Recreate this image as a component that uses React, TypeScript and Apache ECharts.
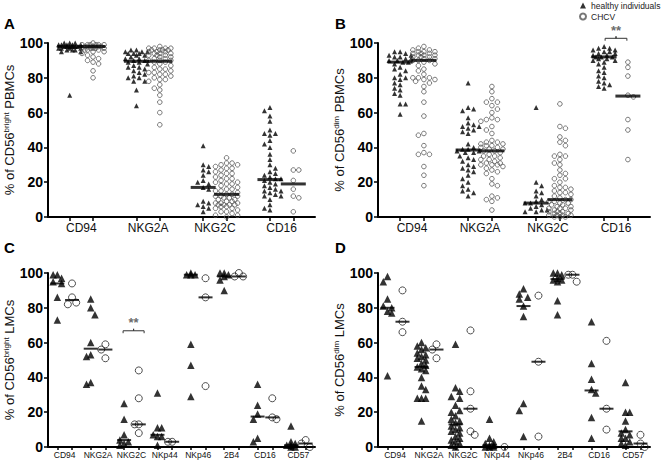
import React, { useEffect, useRef } from "react";
import * as echarts from "echarts";

const FONT = '"Liberation Sans", Arial, Helvetica, sans-serif';

// ---------- categories ----------
const catsPBMC = ["CD94", "NKG2A", "NKG2C", "CD16"];
const catsLMC = ["CD94", "NKG2A", "NKG2C", "NKp44", "NKp46", "2B4", "CD16", "CD57"];
const yTicks = [0, 20, 40, 60, 80, 100];

// ---------- Panel A: CD56bright PBMCs ----------
const aHealthy = [
  [100, 100, 100, 99, 99, 99, 99, 99, 98, 98, 98, 98, 98, 98, 97, 97, 97, 97, 96, 96, 96, 95, 95, 70],
  [96, 96, 95, 95, 95, 94, 94, 94, 93, 93, 92, 91, 91, 90, 90, 89, 89, 88, 87, 86, 86, 85, 84, 83, 82, 81, 80, 80, 78, 78, 73, 64],
  [41, 30, 29, 27, 26, 24, 21, 20, 19, 17, 16, 9, 8, 7, 6, 5, 3],
  [63, 61, 58, 55, 50, 48, 48, 47, 44, 42, 40, 36, 33, 30, 28, 26, 25, 24, 23, 22, 22, 21, 20, 19, 18, 17, 16, 15, 15, 14, 13, 12, 12, 10, 7, 5, 4],
];
const aChcv = [
  [100, 99, 99, 99, 99, 99, 99, 98, 98, 98, 98, 98, 98, 98, 97, 97, 97, 97, 97, 96, 96, 96, 95, 95, 94, 93, 92, 91, 90, 89, 88, 84, 80],
  [98, 97, 97, 97, 97, 96, 96, 96, 96, 95, 95, 95, 94, 94, 94, 93, 93, 93, 92, 92, 91, 91, 90, 90, 90, 89, 89, 88, 87, 86, 85, 85, 84, 83, 83, 82, 82, 81, 80, 79, 79, 78, 76, 74, 73, 70, 66, 60, 53],
  [34, 31, 31, 30, 30, 29, 28, 28, 27, 26, 25, 25, 24, 23, 22, 22, 21, 20, 20, 19, 19, 18, 17, 16, 16, 15, 15, 14, 13, 13, 12, 12, 12, 11, 11, 10, 10, 9, 9, 8, 8, 8, 7, 7, 7, 7, 6, 6, 5, 5, 4, 3, 3, 2, 1, 1, 0],
  [38, 27, 27, 21, 16, 12, 11, 3],
];
const aHealthyMedian = [98, 89.5, 17, 21.5];
const aChcvMedian = [98, 89.5, 13, 19];

// ---------- Panel B: CD56dim PBMCs ----------
const bHealthy = [
  [95, 95, 94, 93, 93, 92, 92, 91, 91, 90, 90, 89, 89, 88, 86, 85, 84, 82, 80, 80, 79, 77, 76, 74, 73, 71, 70, 65, 65, 59],
  [77, 63, 62, 61, 57, 54, 53, 52, 52, 51, 50, 49, 48, 42, 40, 39, 39, 38, 38, 37, 37, 35, 34, 33, 32, 30, 29, 28, 27, 26, 24, 22, 20, 18, 16, 15, 14, 12],
  [63, 20, 18, 15, 14, 12, 10, 9, 8, 8, 7, 6, 5, 4, 4, 3, 3],
  [98, 97, 97, 96, 96, 95, 95, 94, 94, 93, 93, 92, 92, 92, 91, 91, 90, 90, 89, 88, 86, 84, 83, 81, 80, 78, 77, 76, 75, 74],
];
const bChcv = [
  [98, 97, 96, 96, 95, 95, 95, 94, 94, 94, 93, 93, 93, 92, 92, 92, 91, 91, 90, 90, 90, 89, 88, 87, 85, 84, 82, 80, 80, 80, 79, 79, 78, 77, 75, 72, 66, 58, 48, 47, 41, 37, 36, 36, 29, 24, 18],
  [75, 72, 68, 66, 66, 64, 62, 60, 57, 56, 56, 55, 52, 50, 48, 44, 43, 43, 42, 42, 41, 41, 40, 40, 39, 39, 38, 38, 37, 36, 35, 35, 34, 33, 33, 32, 31, 31, 30, 30, 30, 29, 28, 27, 26, 25, 22, 19, 18, 12, 11, 10, 9, 4],
  [65, 52, 51, 46, 44, 43, 41, 36, 35, 35, 33, 31, 30, 27, 25, 24, 22, 22, 20, 18, 17, 17, 16, 15, 14, 14, 13, 12, 11, 10, 10, 9, 9, 8, 8, 7, 7, 6, 6, 5, 5, 5, 4, 4, 3, 3, 3, 2, 2, 2, 1, 1, 1, 1, 0, 0, 0],
  [89, 86, 81, 70, 69, 56, 50, 33],
];
const bHealthyMedian = [89, 38.5, 8, 92];
const bChcvMedian = [90, 38, 10, 69.5];

// ---------- Panel C: CD56bright LMCs ----------
const cHealthy = [
  [99, 99, 97, 95, 94, 86, 73],
  [85, 80, 76, 60, 53, 52, 37, 36],
  [25, 16, 7, 4, 3, 2, 1],
  [31, 11, 11, 7, 6, 6, 1],
  [100, 99, 99, 99, 59, 47, 29],
  [100, 100, 99, 98, 96, 90],
  [36, 24, 19, 16, 5, 3],
  [12, 3, 2, 1, 1, 0, 0],
];
const cChcv = [
  [94, 86, 83, 82],
  [59, 56, 51],
  [44, 28, 13, 13, 8],
  [3, 3],
  [97, 86, 35],
  [100, 98, 98],
  [28, 17, 16],
  [4, 2, 0],
];
const cHealthyMedian = [94, 56.5, 4, 7, 99, 98, 17.5, 1];
const cChcvMedian = [84.5, 56, 13, 3, 86, 98, 17, 2];

// ---------- Panel D: CD56dim LMCs ----------
const dHealthy = [
  [98, 95, 85, 81, 80, 78, 77, 41],
  [60, 58, 57, 56, 54, 53, 52, 51, 50, 48, 47, 46, 45, 44, 40, 35, 33, 28, 28, 28, 15],
  [59, 34, 32, 29, 28, 24, 21, 20, 18, 16, 15, 14, 12, 11, 10, 9, 8, 6, 5, 4, 3, 2, 1, 0],
  [16, 5, 3, 2, 1, 1, 0, 0, 0],
  [91, 88, 86, 85, 81, 75, 25, 21, 6],
  [100, 100, 99, 97, 96, 96, 95, 84, 76],
  [72, 48, 39, 33, 31, 17, 5],
  [37, 20, 20, 15, 10, 8, 7, 5, 5, 3, 2, 1],
];
const dChcv = [
  [90, 72, 66],
  [59, 56, 51],
  [67, 32, 22, 9, 7],
  [0],
  [87, 49, 6],
  [99, 99, 95],
  [61, 22, 10],
  [7, 2, 0],
];
const dHealthyMedian = [80, 46, 13, 1, 81, 96.5, 32.5, 9];
const dChcvMedian = [72, 56, 22, 0, 49, 99, 22, 2];

// ---------- significance brackets ----------
const brackets = [
  { panel: 1, cat: 3, level: 102.7, label: "**" },
  { panel: 2, cat: 2, level: 66.8, label: "**" },
];

const GRIDS = [
  { left: 48, top: 43, width: 267, height: 174 },
  { left: 378, top: 43, width: 272, height: 174 },
  { left: 48, top: 273, width: 267, height: 174 },
  { left: 378, top: 273, width: 272, height: 174 },
];

const PANELS = [
  { letter: "A", cats: catsPBMC, healthy: aHealthy, chcv: aChcv, medH: aHealthyMedian, medC: aChcvMedian, sup: "bright", tail: "PBMCs", big: true },
  { letter: "B", cats: catsPBMC, healthy: bHealthy, chcv: bChcv, medH: bHealthyMedian, medC: bChcvMedian, sup: "dim", tail: "PBMCs", big: true },
  { letter: "C", cats: catsLMC, healthy: cHealthy, chcv: cChcv, medH: cHealthyMedian, medC: cChcvMedian, sup: "bright", tail: "LMCs", big: false },
  { letter: "D", cats: catsLMC, healthy: dHealthy, chcv: dChcv, medH: dHealthyMedian, medC: dChcvMedian, sup: "dim", tail: "LMCs", big: false },
];

// deterministic beeswarm: horizontal pixel offsets so markers do not overlap
function swarm(vals: number[], diam: number, maxOff: number, pxPerY: number): number[] {
  const placed: { x: number; y: number }[] = [];
  const out: number[] = [];
  const step = diam * 0.6;
  for (let idx = 0; idx < vals.length; idx++) {
    const y = vals[idx] * pxPerY;
    const sign = idx % 2 === 0 ? 1 : -1;
    const cands: number[] = [0];
    for (let k = 1; k * step <= maxOff + 1e-6; k++) cands.push(sign * k * step, -sign * k * step);
    let best = 0;
    let bestD = -1;
    let found = false;
    for (const c of cands) {
      let d = Infinity;
      for (const p of placed) d = Math.min(d, Math.hypot(p.x - c, p.y - y));
      if (d >= diam) {
        best = c;
        found = true;
        break;
      }
      if (d > bestD) {
        bestD = d;
        best = c;
      }
    }
    placed.push({ x: best, y });
    out.push(best);
  }
  return out;
}

function buildOption() {
  const grid: any[] = [];
  const xAxis: any[] = [];
  const yAxis: any[] = [];
  const series: any[] = [];
  const graphic: any[] = [];

  PANELS.forEach((p, gi) => {
    const g = GRIDS[gi];
    grid.push({ ...g, containLabel: false });
    const nc = p.cats.length;
    const off = p.big ? 0.175 : 0.22;
    const diam = p.big ? 4.6 : 7;
    const maxOff = p.big ? 13 : 8;
    const pxPerY = g.height / 100;
    const subcols: number[] = [];
    const centers: number[] = [];
    for (let i = 0; i < nc; i++) {
      centers.push(i + 0.5);
      subcols.push(i + 0.5 - off, i + 0.5 + off);
    }
    xAxis.push({
      type: "value",
      gridIndex: gi,
      min: 0,
      max: nc,
      splitLine: { show: false },
      axisLine: { show: true, onZero: false, lineStyle: { color: "#000", width: 2 } },
      axisTick: { show: true, customValues: subcols, length: p.big ? 4 : 3, lineStyle: { color: "#000", width: 1.5 } },
      axisLabel: {
        customValues: centers,
        formatter: (v: number) => p.cats[Math.floor(v)] ?? "",
        fontSize: p.big ? 12 : 8.5,
        color: "#111",
        fontFamily: FONT,
        margin: p.big ? 5 : 3,
      },
    });
    yAxis.push({
      type: "value",
      gridIndex: gi,
      min: 0,
      max: 100,
      interval: 20,
      splitLine: { show: false },
      axisLine: { show: true, lineStyle: { color: "#000", width: 2 } },
      axisTick: { show: true, length: 4, lineStyle: { color: "#000", width: 1.5 } },
      axisLabel: {
        fontSize: 14,
        fontWeight: "bold",
        color: "#000",
        fontFamily: FONT,
        margin: 5,
        formatter: (v: number) => (yTicks.includes(v) ? String(v) : ""),
      },
      name: `% of CD56{sup|${p.sup}} ${p.tail}`,
      nameLocation: "middle",
      nameGap: 30,
      nameTextStyle: {
        fontSize: 13,
        color: "#111",
        fontFamily: FONT,
        rich: { sup: { fontSize: 8, verticalAlign: "top", color: "#111", fontFamily: FONT } },
      },
    });

    const hData: any[] = [];
    const cData: any[] = [];
    const mData: any[] = [];
    for (let i = 0; i < nc; i++) {
      const hv = p.healthy[i];
      const ho = swarm(hv, diam, maxOff, pxPerY);
      hv.forEach((v, j) => hData.push({ value: [i + 0.5 - off, v], symbolOffset: [ho[j], 0] }));
      const cv = p.chcv[i];
      const co = swarm(cv, diam, maxOff, pxPerY);
      cv.forEach((v, j) => cData.push({ value: [i + 0.5 + off, v], symbolOffset: [co[j], 0] }));
      mData.push([i + 0.5 - off, p.medH[i]], [i + 0.5 + off, p.medC[i]]);
    }
    series.push({
      type: "scatter",
      name: "healthy individuals",
      xAxisIndex: gi,
      yAxisIndex: gi,
      symbol: "triangle",
      symbolSize: p.big ? 5 : 7.5,
      itemStyle: { color: "#000" },
      data: hData,
      z: 3,
    });
    series.push({
      type: "scatter",
      name: "CHCV",
      xAxisIndex: gi,
      yAxisIndex: gi,
      symbol: "circle",
      symbolSize: p.big ? 4.6 : 7,
      itemStyle: { color: "rgba(255,255,255,0)", borderColor: p.big ? "#555" : "#222", borderWidth: 1 },
      data: cData,
      z: 3,
    });
    series.push({
      type: "scatter",
      name: "median",
      xAxisIndex: gi,
      yAxisIndex: gi,
      symbol: "rect",
      symbolSize: p.big ? [25, 3] : [14, 2],
      itemStyle: { color: "#000" },
      data: mData,
      z: 4,
    });

    graphic.push({
      type: "text",
      left: gi % 2 === 0 ? 4 : 335,
      top: gi < 2 ? 16 : 240,
      style: { text: p.letter, font: `bold 15px ${FONT}`, fill: "#000" },
    });
  });

  brackets.forEach((b, k) => {
    const p = PANELS[b.panel];
    const off = p.big ? 0.16 : 0.2;
    const c = b.cat + 0.5;
    const x1 = p.big ? c - off : c - 0.25;
    const x2 = p.big ? c + off : c + 0.38;
    const mid = (x1 + x2) / 2;
    const drop = 1.4;
    series.push({
      type: "line",
      name: "bracket" + k,
      xAxisIndex: b.panel,
      yAxisIndex: b.panel,
      symbol: "none",
      clip: false,
      lineStyle: { color: "#333", width: 1 },
      data: [
        [x1, b.level - drop],
        [x1, b.level],
        [mid, b.level],
        [mid, b.level + drop * 0.8],
        [mid, b.level],
        [x2, b.level],
        [x2, b.level - drop],
      ],
      z: 5,
    });
    series.push({
      type: "scatter",
      name: "sig" + k,
      xAxisIndex: b.panel,
      yAxisIndex: b.panel,
      symbolSize: 1,
      clip: false,
      itemStyle: { color: "rgba(0,0,0,0)" },
      label: { show: true, position: "inside", formatter: b.label, fontSize: 13, color: "#444", fontFamily: FONT, fontWeight: "bold" },
      data: [[mid, b.level + 4.5]],
      z: 5,
    });
  });

  return {
    animation: false,
    backgroundColor: "#fff",
    legend: {
      data: ["healthy individuals", "CHCV"],
      orient: "vertical",
      left: 579,
      top: 0,
      padding: [1, 0, 0, 0],
      itemWidth: 6,
      itemHeight: 6,
      itemGap: 2,
      selectedMode: false,
      textStyle: { fontSize: 8.5, color: "#222", fontFamily: FONT },
    },
    grid,
    xAxis,
    yAxis,
    series,
    graphic,
  };
}

export default function App() {
  const ref = useRef<HTMLDivElement>(null);
  useEffect(() => {
    if (!ref.current) return;
    const chart = echarts.init(ref.current, undefined, { renderer: "svg" });
    chart.setOption(buildOption() as any);
    return () => chart.dispose();
  }, []);
  return <div ref={ref} style={{ position: "fixed", left: 0, top: 0, width: 661, height: 465 }} />;
}
